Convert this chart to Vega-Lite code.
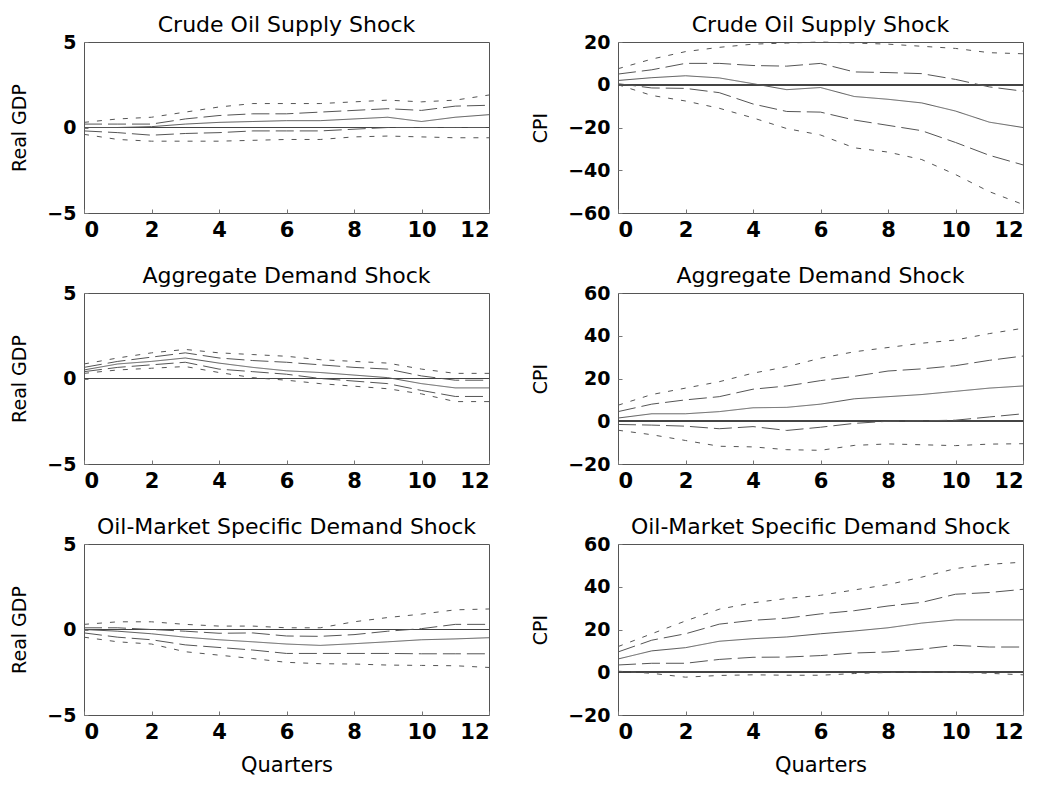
{
  "$schema": "https://vega.github.io/schema/vega-lite/v6.json",
  "autosize": {"type": "none"},
  "padding": {"left": 84, "top": 42, "right": 959, "bottom": 743},
  "background": "white",
  "config": {
    "view": {"stroke": "#555", "strokeWidth": 1},
    "axis": {"grid": false, "domain": false, "labelFont": "DejaVu Sans", "labelFontWeight": "bold", "labelColor": "#000", "titleFont": "DejaVu Sans", "titleFontWeight": "normal", "titleColor": "#000", "tickColor": "#777", "tickSize": -4},
    "axisX": {"labelFontSize": 21, "labelPadding": 10, "titleFontSize": 21, "titlePadding": 12},
    "axisY": {"labelFontSize": 19, "labelPadding": 12, "titleFontSize": 19, "titlePadding": 17},
    "title": {"font": "DejaVu Sans", "fontSize": 22, "fontWeight": "normal", "color": "#000", "anchor": "middle", "offset": -4}
  },
  "bounds": "flush",
  "columns": 2,
  "spacing": {"row": 80, "column": 129},
  "data": {"values": [
    {"panel":"gdp_supply","band":"outer_hi","quarter":0,"value":0.3},{"panel":"gdp_supply","band":"outer_hi","quarter":1,"value":0.5},{"panel":"gdp_supply","band":"outer_hi","quarter":2,"value":0.6},{"panel":"gdp_supply","band":"outer_hi","quarter":3,"value":0.9},{"panel":"gdp_supply","band":"outer_hi","quarter":4,"value":1.2},{"panel":"gdp_supply","band":"outer_hi","quarter":5,"value":1.4},{"panel":"gdp_supply","band":"outer_hi","quarter":6,"value":1.4},{"panel":"gdp_supply","band":"outer_hi","quarter":7,"value":1.4},{"panel":"gdp_supply","band":"outer_hi","quarter":8,"value":1.5},{"panel":"gdp_supply","band":"outer_hi","quarter":9,"value":1.6},{"panel":"gdp_supply","band":"outer_hi","quarter":10,"value":1.5},{"panel":"gdp_supply","band":"outer_hi","quarter":11,"value":1.6},{"panel":"gdp_supply","band":"outer_hi","quarter":12,"value":1.9},
    {"panel":"gdp_supply","band":"inner_hi","quarter":0,"value":0.2},{"panel":"gdp_supply","band":"inner_hi","quarter":1,"value":0.2},{"panel":"gdp_supply","band":"inner_hi","quarter":2,"value":0.2},{"panel":"gdp_supply","band":"inner_hi","quarter":3,"value":0.5},{"panel":"gdp_supply","band":"inner_hi","quarter":4,"value":0.7},{"panel":"gdp_supply","band":"inner_hi","quarter":5,"value":0.8},{"panel":"gdp_supply","band":"inner_hi","quarter":6,"value":0.8},{"panel":"gdp_supply","band":"inner_hi","quarter":7,"value":0.9},{"panel":"gdp_supply","band":"inner_hi","quarter":8,"value":1.0},{"panel":"gdp_supply","band":"inner_hi","quarter":9,"value":1.1},{"panel":"gdp_supply","band":"inner_hi","quarter":10,"value":1.0},{"panel":"gdp_supply","band":"inner_hi","quarter":11,"value":1.25},{"panel":"gdp_supply","band":"inner_hi","quarter":12,"value":1.3},
    {"panel":"gdp_supply","band":"estimate","quarter":0,"value":0.0},{"panel":"gdp_supply","band":"estimate","quarter":1,"value":0.0},{"panel":"gdp_supply","band":"estimate","quarter":2,"value":0.05},{"panel":"gdp_supply","band":"estimate","quarter":3,"value":0.2},{"panel":"gdp_supply","band":"estimate","quarter":4,"value":0.3},{"panel":"gdp_supply","band":"estimate","quarter":5,"value":0.35},{"panel":"gdp_supply","band":"estimate","quarter":6,"value":0.4},{"panel":"gdp_supply","band":"estimate","quarter":7,"value":0.4},{"panel":"gdp_supply","band":"estimate","quarter":8,"value":0.5},{"panel":"gdp_supply","band":"estimate","quarter":9,"value":0.6},{"panel":"gdp_supply","band":"estimate","quarter":10,"value":0.35},{"panel":"gdp_supply","band":"estimate","quarter":11,"value":0.6},{"panel":"gdp_supply","band":"estimate","quarter":12,"value":0.75},
    {"panel":"gdp_supply","band":"inner_lo","quarter":0,"value":-0.2},{"panel":"gdp_supply","band":"inner_lo","quarter":1,"value":-0.3},{"panel":"gdp_supply","band":"inner_lo","quarter":2,"value":-0.45},{"panel":"gdp_supply","band":"inner_lo","quarter":3,"value":-0.35},{"panel":"gdp_supply","band":"inner_lo","quarter":4,"value":-0.3},{"panel":"gdp_supply","band":"inner_lo","quarter":5,"value":-0.2},{"panel":"gdp_supply","band":"inner_lo","quarter":6,"value":-0.2},{"panel":"gdp_supply","band":"inner_lo","quarter":7,"value":-0.2},{"panel":"gdp_supply","band":"inner_lo","quarter":8,"value":-0.1},{"panel":"gdp_supply","band":"inner_lo","quarter":9,"value":0.0},{"panel":"gdp_supply","band":"inner_lo","quarter":10,"value":0.0},{"panel":"gdp_supply","band":"inner_lo","quarter":11,"value":0.0},{"panel":"gdp_supply","band":"inner_lo","quarter":12,"value":0.0},
    {"panel":"gdp_supply","band":"outer_lo","quarter":0,"value":-0.4},{"panel":"gdp_supply","band":"outer_lo","quarter":1,"value":-0.7},{"panel":"gdp_supply","band":"outer_lo","quarter":2,"value":-0.8},{"panel":"gdp_supply","band":"outer_lo","quarter":3,"value":-0.8},{"panel":"gdp_supply","band":"outer_lo","quarter":4,"value":-0.8},{"panel":"gdp_supply","band":"outer_lo","quarter":5,"value":-0.75},{"panel":"gdp_supply","band":"outer_lo","quarter":6,"value":-0.7},{"panel":"gdp_supply","band":"outer_lo","quarter":7,"value":-0.7},{"panel":"gdp_supply","band":"outer_lo","quarter":8,"value":-0.55},{"panel":"gdp_supply","band":"outer_lo","quarter":9,"value":-0.5},{"panel":"gdp_supply","band":"outer_lo","quarter":10,"value":-0.55},{"panel":"gdp_supply","band":"outer_lo","quarter":11,"value":-0.6},{"panel":"gdp_supply","band":"outer_lo","quarter":12,"value":-0.6},

    {"panel":"cpi_supply","band":"outer_hi","quarter":0,"value":7.5},{"panel":"cpi_supply","band":"outer_hi","quarter":1,"value":12},{"panel":"cpi_supply","band":"outer_hi","quarter":2,"value":15.5},{"panel":"cpi_supply","band":"outer_hi","quarter":3,"value":17.5},{"panel":"cpi_supply","band":"outer_hi","quarter":4,"value":19},{"panel":"cpi_supply","band":"outer_hi","quarter":5,"value":19.5},{"panel":"cpi_supply","band":"outer_hi","quarter":6,"value":20},{"panel":"cpi_supply","band":"outer_hi","quarter":7,"value":19.5},{"panel":"cpi_supply","band":"outer_hi","quarter":8,"value":19},{"panel":"cpi_supply","band":"outer_hi","quarter":9,"value":18},{"panel":"cpi_supply","band":"outer_hi","quarter":10,"value":17},{"panel":"cpi_supply","band":"outer_hi","quarter":11,"value":15},{"panel":"cpi_supply","band":"outer_hi","quarter":12,"value":14.5},
    {"panel":"cpi_supply","band":"inner_hi","quarter":0,"value":5},{"panel":"cpi_supply","band":"inner_hi","quarter":1,"value":7},{"panel":"cpi_supply","band":"inner_hi","quarter":2,"value":10},{"panel":"cpi_supply","band":"inner_hi","quarter":3,"value":10},{"panel":"cpi_supply","band":"inner_hi","quarter":4,"value":9},{"panel":"cpi_supply","band":"inner_hi","quarter":5,"value":8.7},{"panel":"cpi_supply","band":"inner_hi","quarter":6,"value":10},{"panel":"cpi_supply","band":"inner_hi","quarter":7,"value":6},{"panel":"cpi_supply","band":"inner_hi","quarter":8,"value":5.7},{"panel":"cpi_supply","band":"inner_hi","quarter":9,"value":5.2},{"panel":"cpi_supply","band":"inner_hi","quarter":10,"value":2.5},{"panel":"cpi_supply","band":"inner_hi","quarter":11,"value":-1},{"panel":"cpi_supply","band":"inner_hi","quarter":12,"value":-3},
    {"panel":"cpi_supply","band":"estimate","quarter":0,"value":2},{"panel":"cpi_supply","band":"estimate","quarter":1,"value":3.3},{"panel":"cpi_supply","band":"estimate","quarter":2,"value":4.2},{"panel":"cpi_supply","band":"estimate","quarter":3,"value":3.2},{"panel":"cpi_supply","band":"estimate","quarter":4,"value":0.5},{"panel":"cpi_supply","band":"estimate","quarter":5,"value":-2.3},{"panel":"cpi_supply","band":"estimate","quarter":6,"value":-1.3},{"panel":"cpi_supply","band":"estimate","quarter":7,"value":-5.5},{"panel":"cpi_supply","band":"estimate","quarter":8,"value":-6.8},{"panel":"cpi_supply","band":"estimate","quarter":9,"value":-8.5},{"panel":"cpi_supply","band":"estimate","quarter":10,"value":-12.3},{"panel":"cpi_supply","band":"estimate","quarter":11,"value":-17.5},{"panel":"cpi_supply","band":"estimate","quarter":12,"value":-20},
    {"panel":"cpi_supply","band":"inner_lo","quarter":0,"value":0.5},{"panel":"cpi_supply","band":"inner_lo","quarter":1,"value":-1.5},{"panel":"cpi_supply","band":"inner_lo","quarter":2,"value":-1.7},{"panel":"cpi_supply","band":"inner_lo","quarter":3,"value":-3.7},{"panel":"cpi_supply","band":"inner_lo","quarter":4,"value":-9},{"panel":"cpi_supply","band":"inner_lo","quarter":5,"value":-12.5},{"panel":"cpi_supply","band":"inner_lo","quarter":6,"value":-12.8},{"panel":"cpi_supply","band":"inner_lo","quarter":7,"value":-16.5},{"panel":"cpi_supply","band":"inner_lo","quarter":8,"value":-19},{"panel":"cpi_supply","band":"inner_lo","quarter":9,"value":-21.5},{"panel":"cpi_supply","band":"inner_lo","quarter":10,"value":-27},{"panel":"cpi_supply","band":"inner_lo","quarter":11,"value":-33},{"panel":"cpi_supply","band":"inner_lo","quarter":12,"value":-37.5},
    {"panel":"cpi_supply","band":"outer_lo","quarter":0,"value":0},{"panel":"cpi_supply","band":"outer_lo","quarter":1,"value":-5},{"panel":"cpi_supply","band":"outer_lo","quarter":2,"value":-7.6},{"panel":"cpi_supply","band":"outer_lo","quarter":3,"value":-11},{"panel":"cpi_supply","band":"outer_lo","quarter":4,"value":-15.5},{"panel":"cpi_supply","band":"outer_lo","quarter":5,"value":-20.5},{"panel":"cpi_supply","band":"outer_lo","quarter":6,"value":-23.5},{"panel":"cpi_supply","band":"outer_lo","quarter":7,"value":-29.5},{"panel":"cpi_supply","band":"outer_lo","quarter":8,"value":-31.5},{"panel":"cpi_supply","band":"outer_lo","quarter":9,"value":-35},{"panel":"cpi_supply","band":"outer_lo","quarter":10,"value":-42},{"panel":"cpi_supply","band":"outer_lo","quarter":11,"value":-50},{"panel":"cpi_supply","band":"outer_lo","quarter":12,"value":-56},

    {"panel":"gdp_agg","band":"outer_hi","quarter":0,"value":0.85},{"panel":"gdp_agg","band":"outer_hi","quarter":1,"value":1.2},{"panel":"gdp_agg","band":"outer_hi","quarter":2,"value":1.5},{"panel":"gdp_agg","band":"outer_hi","quarter":3,"value":1.7},{"panel":"gdp_agg","band":"outer_hi","quarter":4,"value":1.5},{"panel":"gdp_agg","band":"outer_hi","quarter":5,"value":1.4},{"panel":"gdp_agg","band":"outer_hi","quarter":6,"value":1.3},{"panel":"gdp_agg","band":"outer_hi","quarter":7,"value":1.1},{"panel":"gdp_agg","band":"outer_hi","quarter":8,"value":1.0},{"panel":"gdp_agg","band":"outer_hi","quarter":9,"value":0.9},{"panel":"gdp_agg","band":"outer_hi","quarter":10,"value":0.55},{"panel":"gdp_agg","band":"outer_hi","quarter":11,"value":0.3},{"panel":"gdp_agg","band":"outer_hi","quarter":12,"value":0.3},
    {"panel":"gdp_agg","band":"inner_hi","quarter":0,"value":0.65},{"panel":"gdp_agg","band":"inner_hi","quarter":1,"value":1.0},{"panel":"gdp_agg","band":"inner_hi","quarter":2,"value":1.25},{"panel":"gdp_agg","band":"inner_hi","quarter":3,"value":1.5},{"panel":"gdp_agg","band":"inner_hi","quarter":4,"value":1.2},{"panel":"gdp_agg","band":"inner_hi","quarter":5,"value":1.05},{"panel":"gdp_agg","band":"inner_hi","quarter":6,"value":0.95},{"panel":"gdp_agg","band":"inner_hi","quarter":7,"value":0.8},{"panel":"gdp_agg","band":"inner_hi","quarter":8,"value":0.65},{"panel":"gdp_agg","band":"inner_hi","quarter":9,"value":0.55},{"panel":"gdp_agg","band":"inner_hi","quarter":10,"value":0.15},{"panel":"gdp_agg","band":"inner_hi","quarter":11,"value":-0.1},{"panel":"gdp_agg","band":"inner_hi","quarter":12,"value":-0.1},
    {"panel":"gdp_agg","band":"estimate","quarter":0,"value":0.5},{"panel":"gdp_agg","band":"estimate","quarter":1,"value":0.85},{"panel":"gdp_agg","band":"estimate","quarter":2,"value":1.0},{"panel":"gdp_agg","band":"estimate","quarter":3,"value":1.2},{"panel":"gdp_agg","band":"estimate","quarter":4,"value":0.9},{"panel":"gdp_agg","band":"estimate","quarter":5,"value":0.65},{"panel":"gdp_agg","band":"estimate","quarter":6,"value":0.45},{"panel":"gdp_agg","band":"estimate","quarter":7,"value":0.35},{"panel":"gdp_agg","band":"estimate","quarter":8,"value":0.2},{"panel":"gdp_agg","band":"estimate","quarter":9,"value":0.05},{"panel":"gdp_agg","band":"estimate","quarter":10,"value":-0.3},{"panel":"gdp_agg","band":"estimate","quarter":11,"value":-0.55},{"panel":"gdp_agg","band":"estimate","quarter":12,"value":-0.55},
    {"panel":"gdp_agg","band":"inner_lo","quarter":0,"value":0.4},{"panel":"gdp_agg","band":"inner_lo","quarter":1,"value":0.65},{"panel":"gdp_agg","band":"inner_lo","quarter":2,"value":0.8},{"panel":"gdp_agg","band":"inner_lo","quarter":3,"value":0.95},{"panel":"gdp_agg","band":"inner_lo","quarter":4,"value":0.55},{"panel":"gdp_agg","band":"inner_lo","quarter":5,"value":0.4},{"panel":"gdp_agg","band":"inner_lo","quarter":6,"value":0.25},{"panel":"gdp_agg","band":"inner_lo","quarter":7,"value":0.0},{"panel":"gdp_agg","band":"inner_lo","quarter":8,"value":-0.15},{"panel":"gdp_agg","band":"inner_lo","quarter":9,"value":-0.3},{"panel":"gdp_agg","band":"inner_lo","quarter":10,"value":-0.7},{"panel":"gdp_agg","band":"inner_lo","quarter":11,"value":-1.05},{"panel":"gdp_agg","band":"inner_lo","quarter":12,"value":-1.05},
    {"panel":"gdp_agg","band":"outer_lo","quarter":0,"value":0.3},{"panel":"gdp_agg","band":"outer_lo","quarter":1,"value":0.5},{"panel":"gdp_agg","band":"outer_lo","quarter":2,"value":0.6},{"panel":"gdp_agg","band":"outer_lo","quarter":3,"value":0.7},{"panel":"gdp_agg","band":"outer_lo","quarter":4,"value":0.35},{"panel":"gdp_agg","band":"outer_lo","quarter":5,"value":0.05},{"panel":"gdp_agg","band":"outer_lo","quarter":6,"value":-0.1},{"panel":"gdp_agg","band":"outer_lo","quarter":7,"value":-0.3},{"panel":"gdp_agg","band":"outer_lo","quarter":8,"value":-0.45},{"panel":"gdp_agg","band":"outer_lo","quarter":9,"value":-0.6},{"panel":"gdp_agg","band":"outer_lo","quarter":10,"value":-0.9},{"panel":"gdp_agg","band":"outer_lo","quarter":11,"value":-1.35},{"panel":"gdp_agg","band":"outer_lo","quarter":12,"value":-1.35},

    {"panel":"cpi_agg","band":"outer_hi","quarter":0,"value":7.5},{"panel":"cpi_agg","band":"outer_hi","quarter":1,"value":12.5},{"panel":"cpi_agg","band":"outer_hi","quarter":2,"value":15.5},{"panel":"cpi_agg","band":"outer_hi","quarter":3,"value":18.5},{"panel":"cpi_agg","band":"outer_hi","quarter":4,"value":22.5},{"panel":"cpi_agg","band":"outer_hi","quarter":5,"value":25.5},{"panel":"cpi_agg","band":"outer_hi","quarter":6,"value":29.5},{"panel":"cpi_agg","band":"outer_hi","quarter":7,"value":32.5},{"panel":"cpi_agg","band":"outer_hi","quarter":8,"value":34.5},{"panel":"cpi_agg","band":"outer_hi","quarter":9,"value":36.5},{"panel":"cpi_agg","band":"outer_hi","quarter":10,"value":38},{"panel":"cpi_agg","band":"outer_hi","quarter":11,"value":41},{"panel":"cpi_agg","band":"outer_hi","quarter":12,"value":43.5},
    {"panel":"cpi_agg","band":"inner_hi","quarter":0,"value":4.5},{"panel":"cpi_agg","band":"inner_hi","quarter":1,"value":8},{"panel":"cpi_agg","band":"inner_hi","quarter":2,"value":10},{"panel":"cpi_agg","band":"inner_hi","quarter":3,"value":11.5},{"panel":"cpi_agg","band":"inner_hi","quarter":4,"value":15},{"panel":"cpi_agg","band":"inner_hi","quarter":5,"value":16.5},{"panel":"cpi_agg","band":"inner_hi","quarter":6,"value":19},{"panel":"cpi_agg","band":"inner_hi","quarter":7,"value":21},{"panel":"cpi_agg","band":"inner_hi","quarter":8,"value":23.5},{"panel":"cpi_agg","band":"inner_hi","quarter":9,"value":24.5},{"panel":"cpi_agg","band":"inner_hi","quarter":10,"value":26},{"panel":"cpi_agg","band":"inner_hi","quarter":11,"value":28.5},{"panel":"cpi_agg","band":"inner_hi","quarter":12,"value":30.5},
    {"panel":"cpi_agg","band":"estimate","quarter":0,"value":1.5},{"panel":"cpi_agg","band":"estimate","quarter":1,"value":3.5},{"panel":"cpi_agg","band":"estimate","quarter":2,"value":3.5},{"panel":"cpi_agg","band":"estimate","quarter":3,"value":4.5},{"panel":"cpi_agg","band":"estimate","quarter":4,"value":6.3},{"panel":"cpi_agg","band":"estimate","quarter":5,"value":6.5},{"panel":"cpi_agg","band":"estimate","quarter":6,"value":8},{"panel":"cpi_agg","band":"estimate","quarter":7,"value":10.5},{"panel":"cpi_agg","band":"estimate","quarter":8,"value":11.5},{"panel":"cpi_agg","band":"estimate","quarter":9,"value":12.5},{"panel":"cpi_agg","band":"estimate","quarter":10,"value":14},{"panel":"cpi_agg","band":"estimate","quarter":11,"value":15.5},{"panel":"cpi_agg","band":"estimate","quarter":12,"value":16.5},
    {"panel":"cpi_agg","band":"inner_lo","quarter":0,"value":-1.5},{"panel":"cpi_agg","band":"inner_lo","quarter":1,"value":-1.8},{"panel":"cpi_agg","band":"inner_lo","quarter":2,"value":-2.3},{"panel":"cpi_agg","band":"inner_lo","quarter":3,"value":-3.5},{"panel":"cpi_agg","band":"inner_lo","quarter":4,"value":-2.5},{"panel":"cpi_agg","band":"inner_lo","quarter":5,"value":-4.3},{"panel":"cpi_agg","band":"inner_lo","quarter":6,"value":-2.8},{"panel":"cpi_agg","band":"inner_lo","quarter":7,"value":-1},{"panel":"cpi_agg","band":"inner_lo","quarter":8,"value":0},{"panel":"cpi_agg","band":"inner_lo","quarter":9,"value":0.2},{"panel":"cpi_agg","band":"inner_lo","quarter":10,"value":0.5},{"panel":"cpi_agg","band":"inner_lo","quarter":11,"value":2},{"panel":"cpi_agg","band":"inner_lo","quarter":12,"value":3.5},
    {"panel":"cpi_agg","band":"outer_lo","quarter":0,"value":-4.2},{"panel":"cpi_agg","band":"outer_lo","quarter":1,"value":-6.3},{"panel":"cpi_agg","band":"outer_lo","quarter":2,"value":-9},{"panel":"cpi_agg","band":"outer_lo","quarter":3,"value":-11.7},{"panel":"cpi_agg","band":"outer_lo","quarter":4,"value":-12},{"panel":"cpi_agg","band":"outer_lo","quarter":5,"value":-13.3},{"panel":"cpi_agg","band":"outer_lo","quarter":6,"value":-13.6},{"panel":"cpi_agg","band":"outer_lo","quarter":7,"value":-11.3},{"panel":"cpi_agg","band":"outer_lo","quarter":8,"value":-10.6},{"panel":"cpi_agg","band":"outer_lo","quarter":9,"value":-11},{"panel":"cpi_agg","band":"outer_lo","quarter":10,"value":-11.4},{"panel":"cpi_agg","band":"outer_lo","quarter":11,"value":-10.7},{"panel":"cpi_agg","band":"outer_lo","quarter":12,"value":-10.5},

    {"panel":"gdp_oil","band":"outer_hi","quarter":0,"value":0.3},{"panel":"gdp_oil","band":"outer_hi","quarter":1,"value":0.45},{"panel":"gdp_oil","band":"outer_hi","quarter":2,"value":0.45},{"panel":"gdp_oil","band":"outer_hi","quarter":3,"value":0.3},{"panel":"gdp_oil","band":"outer_hi","quarter":4,"value":0.2},{"panel":"gdp_oil","band":"outer_hi","quarter":5,"value":0.2},{"panel":"gdp_oil","band":"outer_hi","quarter":6,"value":0.1},{"panel":"gdp_oil","band":"outer_hi","quarter":7,"value":0.1},{"panel":"gdp_oil","band":"outer_hi","quarter":8,"value":0.45},{"panel":"gdp_oil","band":"outer_hi","quarter":9,"value":0.7},{"panel":"gdp_oil","band":"outer_hi","quarter":10,"value":0.9},{"panel":"gdp_oil","band":"outer_hi","quarter":11,"value":1.15},{"panel":"gdp_oil","band":"outer_hi","quarter":12,"value":1.2},
    {"panel":"gdp_oil","band":"inner_hi","quarter":0,"value":0.1},{"panel":"gdp_oil","band":"inner_hi","quarter":1,"value":0.1},{"panel":"gdp_oil","band":"inner_hi","quarter":2,"value":0.0},{"panel":"gdp_oil","band":"inner_hi","quarter":3,"value":-0.1},{"panel":"gdp_oil","band":"inner_hi","quarter":4,"value":-0.22},{"panel":"gdp_oil","band":"inner_hi","quarter":5,"value":-0.2},{"panel":"gdp_oil","band":"inner_hi","quarter":6,"value":-0.38},{"panel":"gdp_oil","band":"inner_hi","quarter":7,"value":-0.4},{"panel":"gdp_oil","band":"inner_hi","quarter":8,"value":-0.3},{"panel":"gdp_oil","band":"inner_hi","quarter":9,"value":-0.1},{"panel":"gdp_oil","band":"inner_hi","quarter":10,"value":0.05},{"panel":"gdp_oil","band":"inner_hi","quarter":11,"value":0.3},{"panel":"gdp_oil","band":"inner_hi","quarter":12,"value":0.3},
    {"panel":"gdp_oil","band":"estimate","quarter":0,"value":0.0},{"panel":"gdp_oil","band":"estimate","quarter":1,"value":-0.1},{"panel":"gdp_oil","band":"estimate","quarter":2,"value":-0.25},{"panel":"gdp_oil","band":"estimate","quarter":3,"value":-0.45},{"panel":"gdp_oil","band":"estimate","quarter":4,"value":-0.6},{"panel":"gdp_oil","band":"estimate","quarter":5,"value":-0.72},{"panel":"gdp_oil","band":"estimate","quarter":6,"value":-0.85},{"panel":"gdp_oil","band":"estimate","quarter":7,"value":-0.93},{"panel":"gdp_oil","band":"estimate","quarter":8,"value":-0.83},{"panel":"gdp_oil","band":"estimate","quarter":9,"value":-0.72},{"panel":"gdp_oil","band":"estimate","quarter":10,"value":-0.6},{"panel":"gdp_oil","band":"estimate","quarter":11,"value":-0.55},{"panel":"gdp_oil","band":"estimate","quarter":12,"value":-0.48},
    {"panel":"gdp_oil","band":"inner_lo","quarter":0,"value":-0.2},{"panel":"gdp_oil","band":"inner_lo","quarter":1,"value":-0.45},{"panel":"gdp_oil","band":"inner_lo","quarter":2,"value":-0.6},{"panel":"gdp_oil","band":"inner_lo","quarter":3,"value":-0.9},{"panel":"gdp_oil","band":"inner_lo","quarter":4,"value":-1.05},{"panel":"gdp_oil","band":"inner_lo","quarter":5,"value":-1.2},{"panel":"gdp_oil","band":"inner_lo","quarter":6,"value":-1.4},{"panel":"gdp_oil","band":"inner_lo","quarter":7,"value":-1.4},{"panel":"gdp_oil","band":"inner_lo","quarter":8,"value":-1.4},{"panel":"gdp_oil","band":"inner_lo","quarter":9,"value":-1.4},{"panel":"gdp_oil","band":"inner_lo","quarter":10,"value":-1.42},{"panel":"gdp_oil","band":"inner_lo","quarter":11,"value":-1.42},{"panel":"gdp_oil","band":"inner_lo","quarter":12,"value":-1.42},
    {"panel":"gdp_oil","band":"outer_lo","quarter":0,"value":-0.45},{"panel":"gdp_oil","band":"outer_lo","quarter":1,"value":-0.72},{"panel":"gdp_oil","band":"outer_lo","quarter":2,"value":-0.85},{"panel":"gdp_oil","band":"outer_lo","quarter":3,"value":-1.3},{"panel":"gdp_oil","band":"outer_lo","quarter":4,"value":-1.5},{"panel":"gdp_oil","band":"outer_lo","quarter":5,"value":-1.7},{"panel":"gdp_oil","band":"outer_lo","quarter":6,"value":-1.92},{"panel":"gdp_oil","band":"outer_lo","quarter":7,"value":-2.0},{"panel":"gdp_oil","band":"outer_lo","quarter":8,"value":-2.02},{"panel":"gdp_oil","band":"outer_lo","quarter":9,"value":-2.08},{"panel":"gdp_oil","band":"outer_lo","quarter":10,"value":-2.1},{"panel":"gdp_oil","band":"outer_lo","quarter":11,"value":-2.12},{"panel":"gdp_oil","band":"outer_lo","quarter":12,"value":-2.22},

    {"panel":"cpi_oil","band":"outer_hi","quarter":0,"value":12},{"panel":"cpi_oil","band":"outer_hi","quarter":1,"value":18},{"panel":"cpi_oil","band":"outer_hi","quarter":2,"value":24},{"panel":"cpi_oil","band":"outer_hi","quarter":3,"value":29.5},{"panel":"cpi_oil","band":"outer_hi","quarter":4,"value":32.5},{"panel":"cpi_oil","band":"outer_hi","quarter":5,"value":34.5},{"panel":"cpi_oil","band":"outer_hi","quarter":6,"value":36},{"panel":"cpi_oil","band":"outer_hi","quarter":7,"value":38.5},{"panel":"cpi_oil","band":"outer_hi","quarter":8,"value":41},{"panel":"cpi_oil","band":"outer_hi","quarter":9,"value":44.5},{"panel":"cpi_oil","band":"outer_hi","quarter":10,"value":48.5},{"panel":"cpi_oil","band":"outer_hi","quarter":11,"value":50.5},{"panel":"cpi_oil","band":"outer_hi","quarter":12,"value":51.5},
    {"panel":"cpi_oil","band":"inner_hi","quarter":0,"value":9.5},{"panel":"cpi_oil","band":"inner_hi","quarter":1,"value":15},{"panel":"cpi_oil","band":"inner_hi","quarter":2,"value":18},{"panel":"cpi_oil","band":"inner_hi","quarter":3,"value":22.5},{"panel":"cpi_oil","band":"inner_hi","quarter":4,"value":24.3},{"panel":"cpi_oil","band":"inner_hi","quarter":5,"value":25.3},{"panel":"cpi_oil","band":"inner_hi","quarter":6,"value":27.3},{"panel":"cpi_oil","band":"inner_hi","quarter":7,"value":28.8},{"panel":"cpi_oil","band":"inner_hi","quarter":8,"value":31},{"panel":"cpi_oil","band":"inner_hi","quarter":9,"value":32.7},{"panel":"cpi_oil","band":"inner_hi","quarter":10,"value":36.5},{"panel":"cpi_oil","band":"inner_hi","quarter":11,"value":37.3},{"panel":"cpi_oil","band":"inner_hi","quarter":12,"value":38.8},
    {"panel":"cpi_oil","band":"estimate","quarter":0,"value":6.2},{"panel":"cpi_oil","band":"estimate","quarter":1,"value":10},{"panel":"cpi_oil","band":"estimate","quarter":2,"value":11.5},{"panel":"cpi_oil","band":"estimate","quarter":3,"value":14.5},{"panel":"cpi_oil","band":"estimate","quarter":4,"value":15.7},{"panel":"cpi_oil","band":"estimate","quarter":5,"value":16.5},{"panel":"cpi_oil","band":"estimate","quarter":6,"value":18},{"panel":"cpi_oil","band":"estimate","quarter":7,"value":19.3},{"panel":"cpi_oil","band":"estimate","quarter":8,"value":20.8},{"panel":"cpi_oil","band":"estimate","quarter":9,"value":23},{"panel":"cpi_oil","band":"estimate","quarter":10,"value":24.5},{"panel":"cpi_oil","band":"estimate","quarter":11,"value":24.5},{"panel":"cpi_oil","band":"estimate","quarter":12,"value":24.5},
    {"panel":"cpi_oil","band":"inner_lo","quarter":0,"value":3.4},{"panel":"cpi_oil","band":"inner_lo","quarter":1,"value":4.2},{"panel":"cpi_oil","band":"inner_lo","quarter":2,"value":4.2},{"panel":"cpi_oil","band":"inner_lo","quarter":3,"value":6},{"panel":"cpi_oil","band":"inner_lo","quarter":4,"value":7},{"panel":"cpi_oil","band":"inner_lo","quarter":5,"value":7.1},{"panel":"cpi_oil","band":"inner_lo","quarter":6,"value":7.8},{"panel":"cpi_oil","band":"inner_lo","quarter":7,"value":9},{"panel":"cpi_oil","band":"inner_lo","quarter":8,"value":9.5},{"panel":"cpi_oil","band":"inner_lo","quarter":9,"value":10.8},{"panel":"cpi_oil","band":"inner_lo","quarter":10,"value":12.6},{"panel":"cpi_oil","band":"inner_lo","quarter":11,"value":11.8},{"panel":"cpi_oil","band":"inner_lo","quarter":12,"value":11.8},
    {"panel":"cpi_oil","band":"outer_lo","quarter":0,"value":0.5},{"panel":"cpi_oil","band":"outer_lo","quarter":1,"value":-0.5},{"panel":"cpi_oil","band":"outer_lo","quarter":2,"value":-2.3},{"panel":"cpi_oil","band":"outer_lo","quarter":3,"value":-1.5},{"panel":"cpi_oil","band":"outer_lo","quarter":4,"value":-1.2},{"panel":"cpi_oil","band":"outer_lo","quarter":5,"value":-1.4},{"panel":"cpi_oil","band":"outer_lo","quarter":6,"value":-1.4},{"panel":"cpi_oil","band":"outer_lo","quarter":7,"value":-0.6},{"panel":"cpi_oil","band":"outer_lo","quarter":8,"value":-0.1},{"panel":"cpi_oil","band":"outer_lo","quarter":9,"value":0},{"panel":"cpi_oil","band":"outer_lo","quarter":10,"value":0},{"panel":"cpi_oil","band":"outer_lo","quarter":11,"value":-0.5},{"panel":"cpi_oil","band":"outer_lo","quarter":12,"value":-1.2}
  ]},
  "concat": [
    {
      "title": "Crude Oil Supply Shock", "width": 405, "height": 171,
      "transform": [{"filter": "datum.panel === 'gdp_supply'"}],
      "layer": [
        {"mark": {"type": "rule", "color": "#444", "strokeWidth": 1}, "encoding": {"y": {"datum": 0, "type": "quantitative"}}},
        {"mark": {"type": "line", "color": "#555", "strokeWidth": 1},
         "encoding": {
           "x": {"field": "quarter", "type": "quantitative", "scale": {"domain": [0, 12], "nice": false}, "axis": {"values": [0, 2, 4, 6, 8, 10, 12], "title": null}},
           "y": {"field": "value", "type": "quantitative", "scale": {"domain": [-5, 5], "nice": false, "zero": false}, "axis": {"values": [-5, 0, 5], "title": "Real GDP"}},
           "detail": {"field": "band"},
           "strokeDash": {"field": "band", "type": "nominal", "legend": null, "scale": {"domain": ["outer_hi", "inner_hi", "estimate", "inner_lo", "outer_lo"], "range": [[5, 8], [18, 6], [1, 0], [18, 6], [5, 8]]}}
         }}
      ]
    },
    {
      "title": "Crude Oil Supply Shock", "width": 405, "height": 171,
      "transform": [{"filter": "datum.panel === 'cpi_supply'"}],
      "layer": [
        {"mark": {"type": "rule", "color": "#444", "strokeWidth": 1}, "encoding": {"y": {"datum": 0, "type": "quantitative"}}},
        {"mark": {"type": "line", "color": "#555", "strokeWidth": 1},
         "encoding": {
           "x": {"field": "quarter", "type": "quantitative", "scale": {"domain": [0, 12], "nice": false}, "axis": {"values": [0, 2, 4, 6, 8, 10, 12], "title": null}},
           "y": {"field": "value", "type": "quantitative", "scale": {"domain": [-60, 20], "nice": false, "zero": false}, "axis": {"values": [-60, -40, -20, 0, 20], "title": "CPI"}},
           "detail": {"field": "band"},
           "strokeDash": {"field": "band", "type": "nominal", "legend": null, "scale": {"domain": ["outer_hi", "inner_hi", "estimate", "inner_lo", "outer_lo"], "range": [[5, 8], [18, 6], [1, 0], [18, 6], [5, 8]]}}
         }}
      ]
    },
    {
      "title": "Aggregate Demand Shock", "width": 405, "height": 171,
      "transform": [{"filter": "datum.panel === 'gdp_agg'"}],
      "layer": [
        {"mark": {"type": "rule", "color": "#444", "strokeWidth": 1}, "encoding": {"y": {"datum": 0, "type": "quantitative"}}},
        {"mark": {"type": "line", "color": "#555", "strokeWidth": 1},
         "encoding": {
           "x": {"field": "quarter", "type": "quantitative", "scale": {"domain": [0, 12], "nice": false}, "axis": {"values": [0, 2, 4, 6, 8, 10, 12], "title": null}},
           "y": {"field": "value", "type": "quantitative", "scale": {"domain": [-5, 5], "nice": false, "zero": false}, "axis": {"values": [-5, 0, 5], "title": "Real GDP"}},
           "detail": {"field": "band"},
           "strokeDash": {"field": "band", "type": "nominal", "legend": null, "scale": {"domain": ["outer_hi", "inner_hi", "estimate", "inner_lo", "outer_lo"], "range": [[5, 8], [18, 6], [1, 0], [18, 6], [5, 8]]}}
         }}
      ]
    },
    {
      "title": "Aggregate Demand Shock", "width": 405, "height": 171,
      "transform": [{"filter": "datum.panel === 'cpi_agg'"}],
      "layer": [
        {"mark": {"type": "rule", "color": "#444", "strokeWidth": 1}, "encoding": {"y": {"datum": 0, "type": "quantitative"}}},
        {"mark": {"type": "line", "color": "#555", "strokeWidth": 1},
         "encoding": {
           "x": {"field": "quarter", "type": "quantitative", "scale": {"domain": [0, 12], "nice": false}, "axis": {"values": [0, 2, 4, 6, 8, 10, 12], "title": null}},
           "y": {"field": "value", "type": "quantitative", "scale": {"domain": [-20, 60], "nice": false, "zero": false}, "axis": {"values": [-20, 0, 20, 40, 60], "title": "CPI"}},
           "detail": {"field": "band"},
           "strokeDash": {"field": "band", "type": "nominal", "legend": null, "scale": {"domain": ["outer_hi", "inner_hi", "estimate", "inner_lo", "outer_lo"], "range": [[5, 8], [18, 6], [1, 0], [18, 6], [5, 8]]}}
         }}
      ]
    },
    {
      "title": "Oil-Market Specific Demand Shock", "width": 405, "height": 171,
      "transform": [{"filter": "datum.panel === 'gdp_oil'"}],
      "layer": [
        {"mark": {"type": "rule", "color": "#444", "strokeWidth": 1}, "encoding": {"y": {"datum": 0, "type": "quantitative"}}},
        {"mark": {"type": "line", "color": "#555", "strokeWidth": 1},
         "encoding": {
           "x": {"field": "quarter", "type": "quantitative", "scale": {"domain": [0, 12], "nice": false}, "axis": {"values": [0, 2, 4, 6, 8, 10, 12], "title": "Quarters"}},
           "y": {"field": "value", "type": "quantitative", "scale": {"domain": [-5, 5], "nice": false, "zero": false}, "axis": {"values": [-5, 0, 5], "title": "Real GDP"}},
           "detail": {"field": "band"},
           "strokeDash": {"field": "band", "type": "nominal", "legend": null, "scale": {"domain": ["outer_hi", "inner_hi", "estimate", "inner_lo", "outer_lo"], "range": [[5, 8], [18, 6], [1, 0], [18, 6], [5, 8]]}}
         }}
      ]
    },
    {
      "title": "Oil-Market Specific Demand Shock", "width": 405, "height": 171,
      "transform": [{"filter": "datum.panel === 'cpi_oil'"}],
      "layer": [
        {"mark": {"type": "rule", "color": "#444", "strokeWidth": 1}, "encoding": {"y": {"datum": 0, "type": "quantitative"}}},
        {"mark": {"type": "line", "color": "#555", "strokeWidth": 1},
         "encoding": {
           "x": {"field": "quarter", "type": "quantitative", "scale": {"domain": [0, 12], "nice": false}, "axis": {"values": [0, 2, 4, 6, 8, 10, 12], "title": "Quarters"}},
           "y": {"field": "value", "type": "quantitative", "scale": {"domain": [-20, 60], "nice": false, "zero": false}, "axis": {"values": [-20, 0, 20, 40, 60], "title": "CPI"}},
           "detail": {"field": "band"},
           "strokeDash": {"field": "band", "type": "nominal", "legend": null, "scale": {"domain": ["outer_hi", "inner_hi", "estimate", "inner_lo", "outer_lo"], "range": [[5, 8], [18, 6], [1, 0], [18, 6], [5, 8]]}}
         }}
      ]
    }
  ]
}
